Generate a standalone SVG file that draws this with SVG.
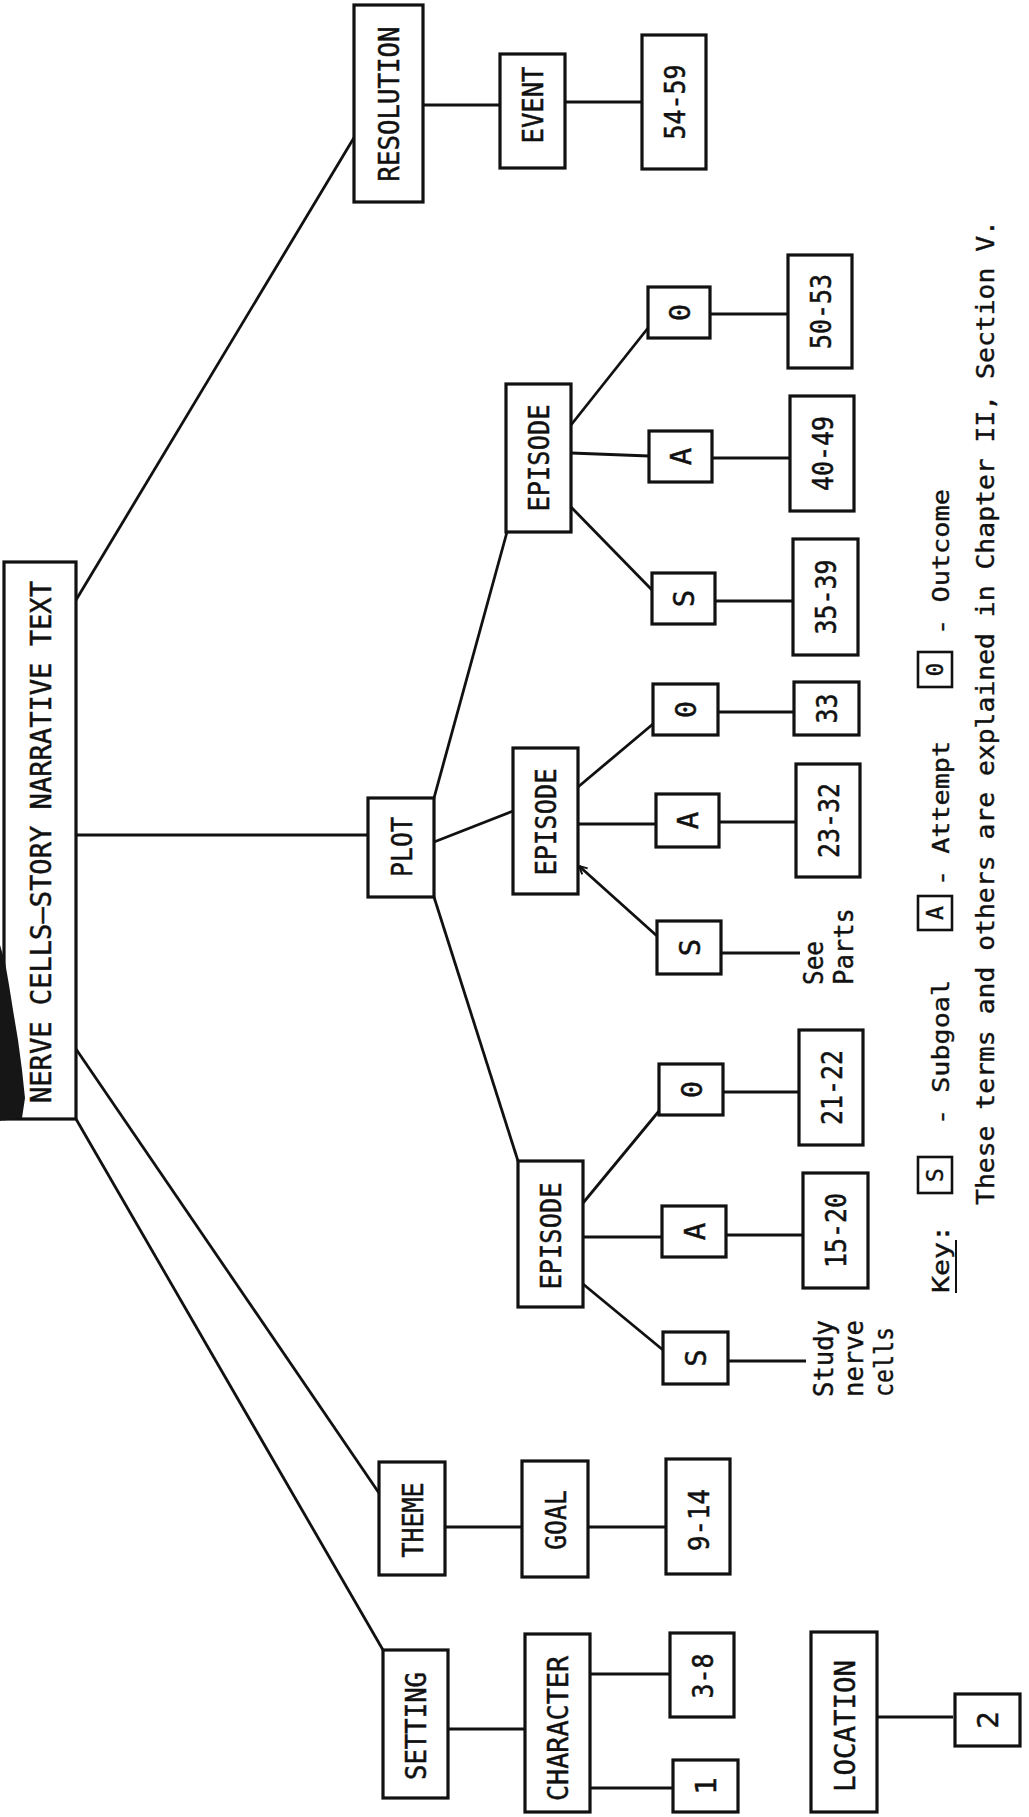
<svg xmlns="http://www.w3.org/2000/svg" width="1029" height="1817" viewBox="0 0 1029 1817">
<style>
.box{fill:#fff;stroke:#111;stroke-width:3.2}
.ln{stroke:#111;stroke-width:2.8;fill:none}
.lbl{font-family:"DejaVu Sans Mono","Liberation Mono",monospace;font-size:29px;fill:#111;stroke:#111;stroke-width:0.5;text-anchor:middle}
.sm{font-family:"DejaVu Sans Mono","Liberation Mono",monospace;font-size:27px;fill:#111;stroke:#111;stroke-width:0.4}
.key{font-family:"DejaVu Sans Mono","Liberation Mono",monospace;font-size:23px;fill:#111;stroke:#111;stroke-width:0.4}
.kbox{fill:#fff;stroke:#111;stroke-width:2.6}
</style>
<defs>
<marker id="arr" viewBox="0 0 10 10" refX="9" refY="5" markerWidth="10" markerHeight="10" markerUnits="userSpaceOnUse" orient="auto-start-reverse">
<path d="M1,1 L9,5 L1,9" fill="none" stroke="#111" stroke-width="2"/>
</marker>
</defs>
<rect width="1029" height="1817" fill="#fff"/>

<g id="connectors">
<line class="ln" x1="70" y1="610" x2="355" y2="136"/>
<line class="ln" x1="76" y1="835" x2="368" y2="835"/>
<line class="ln" x1="76" y1="1049" x2="379" y2="1493"/>
<line class="ln" x1="76" y1="1119" x2="383" y2="1650"/>
<line class="ln" x1="423" y1="105" x2="500" y2="105"/>
<line class="ln" x1="565" y1="102" x2="642" y2="102"/>
<line class="ln" x1="434" y1="798" x2="507" y2="532"/>
<line class="ln" x1="434" y1="842" x2="513" y2="811"/>
<line class="ln" x1="434" y1="897" x2="518" y2="1161"/>
<line class="ln" x1="571" y1="425" x2="648" y2="328"/>
<line class="ln" x1="571" y1="453" x2="649" y2="456"/>
<line class="ln" x1="571" y1="507" x2="652" y2="590"/>
<line class="ln" x1="710" y1="314" x2="788" y2="314"/>
<line class="ln" x1="712" y1="458" x2="790" y2="458"/>
<line class="ln" x1="715" y1="601" x2="793" y2="601"/>
<line class="ln" x1="578" y1="787" x2="653" y2="724"/>
<line class="ln" x1="578" y1="824" x2="656" y2="824"/>
<line class="ln" x1="579" y1="866" x2="657" y2="936" marker-start="url(#arr)"/>
<line class="ln" x1="718" y1="712" x2="794" y2="712"/>
<line class="ln" x1="719" y1="822" x2="796" y2="822"/>
<line class="ln" x1="721" y1="953" x2="800" y2="953"/>
<line class="ln" x1="583" y1="1203" x2="659" y2="1111"/>
<line class="ln" x1="583" y1="1237" x2="662" y2="1237"/>
<line class="ln" x1="583" y1="1284" x2="663" y2="1350"/>
<line class="ln" x1="723" y1="1092" x2="799" y2="1092"/>
<line class="ln" x1="726" y1="1235" x2="803" y2="1235"/>
<line class="ln" x1="728" y1="1361" x2="806" y2="1361"/>
<line class="ln" x1="445" y1="1527" x2="522" y2="1527"/>
<line class="ln" x1="588" y1="1527" x2="666" y2="1527"/>
<line class="ln" x1="448" y1="1729" x2="525" y2="1729"/>
<line class="ln" x1="590" y1="1674" x2="670" y2="1674"/>
<line class="ln" x1="590" y1="1788" x2="672" y2="1788"/>
<line class="ln" x1="876" y1="1717" x2="953" y2="1717"/>
</g>

<g id="root"><rect class="box" x="4" y="562" width="72" height="557"/><path d="M0,945 L5,962 L9,985 L13,1010 L18,1040 L22,1070 L25,1098 L22,1118 L0,1121 Z" fill="#161616"/><g transform="translate(40,842) rotate(-90)"><text class="lbl" y="10.6" textLength="522" lengthAdjust="spacingAndGlyphs">NERVE CELLS—STORY NARRATIVE TEXT</text></g></g>

<g id="resolution"><rect class="box" x="354" y="5" width="69" height="197"/><g transform="translate(388.5,104) rotate(-90)"><text class="lbl" y="10.6" textLength="155" lengthAdjust="spacingAndGlyphs">RESOLUTION</text></g></g>
<g id="event"><rect class="box" x="500" y="54" width="65" height="114"/><g transform="translate(532.5,105) rotate(-90)"><text class="lbl" y="10.6" textLength="77" lengthAdjust="spacingAndGlyphs">EVENT</text></g></g>
<g id="n54-59"><rect class="box" x="642" y="35" width="64" height="134"/><g transform="translate(674,102) rotate(-90)"><text class="lbl" y="10.6" textLength="75" lengthAdjust="spacingAndGlyphs">54-59</text></g></g>

<g id="plot"><rect class="box" x="368" y="798" width="66" height="99"/><g transform="translate(401,847) rotate(-90)"><text class="lbl" y="10.6" textLength="60" lengthAdjust="spacingAndGlyphs">PLOT</text></g></g>

<g id="episode3"><rect class="box" x="506" y="384" width="65" height="148"/><g transform="translate(538.5,458) rotate(-90)"><text class="lbl" y="10.6" textLength="107" lengthAdjust="spacingAndGlyphs">EPISODE</text></g></g>
<g id="o3"><rect class="box" x="648" y="287" width="62" height="51"/><g transform="translate(679,312.5) rotate(-90)"><text class="lbl" y="10.6">0</text></g></g>
<g id="a3"><rect class="box" x="649" y="431" width="63" height="51"/><g transform="translate(680.5,456.5) rotate(-90)"><text class="lbl" y="10.6">A</text></g></g>
<g id="s3"><rect class="box" x="652" y="573" width="63" height="51"/><g transform="translate(683.5,598.5) rotate(-90)"><text class="lbl" y="10.6">S</text></g></g>
<g id="n50-53"><rect class="box" x="788" y="255" width="64" height="113"/><g transform="translate(820,311.5) rotate(-90)"><text class="lbl" y="10.6" textLength="75" lengthAdjust="spacingAndGlyphs">50-53</text></g></g>
<g id="n40-49"><rect class="box" x="790" y="396" width="64" height="115"/><g transform="translate(822,453.5) rotate(-90)"><text class="lbl" y="10.6" textLength="75" lengthAdjust="spacingAndGlyphs">40-49</text></g></g>
<g id="n35-39"><rect class="box" x="793" y="539" width="65" height="116"/><g transform="translate(825.5,597) rotate(-90)"><text class="lbl" y="10.6" textLength="75" lengthAdjust="spacingAndGlyphs">35-39</text></g></g>

<g id="episode2"><rect class="box" x="513" y="748" width="65" height="146"/><g transform="translate(545.5,822) rotate(-90)"><text class="lbl" y="10.6" textLength="107" lengthAdjust="spacingAndGlyphs">EPISODE</text></g></g>
<g id="o2"><rect class="box" x="653" y="684" width="65" height="51"/><g transform="translate(685.5,709.5) rotate(-90)"><text class="lbl" y="10.6">0</text></g></g>
<g id="a2"><rect class="box" x="656" y="794" width="63" height="53"/><g transform="translate(687.5,820.5) rotate(-90)"><text class="lbl" y="10.6">A</text></g></g>
<g id="s2"><rect class="box" x="657" y="921" width="64" height="53"/><g transform="translate(689,947.5) rotate(-90)"><text class="lbl" y="10.6">S</text></g></g>
<g id="n33"><rect class="box" x="794" y="682" width="65" height="53"/><g transform="translate(826.5,708.5) rotate(-90)"><text class="lbl" y="10.6" textLength="30" lengthAdjust="spacingAndGlyphs">33</text></g></g>
<g id="n23-32"><rect class="box" x="796" y="764" width="64" height="113"/><g transform="translate(828,820.5) rotate(-90)"><text class="lbl" y="10.6" textLength="75" lengthAdjust="spacingAndGlyphs">23-32</text></g></g>
<g id="see-parts"><g transform="translate(823,985) rotate(-90)"><text class="sm" textLength="44" lengthAdjust="spacingAndGlyphs">See</text></g><g transform="translate(853,985) rotate(-90)"><text class="sm" textLength="77" lengthAdjust="spacingAndGlyphs">Parts</text></g></g>

<g id="episode1"><rect class="box" x="518" y="1161" width="65" height="146"/><g transform="translate(550.5,1236) rotate(-90)"><text class="lbl" y="10.6" textLength="107" lengthAdjust="spacingAndGlyphs">EPISODE</text></g></g>
<g id="o1"><rect class="box" x="659" y="1064" width="64" height="51"/><g transform="translate(691,1089.5) rotate(-90)"><text class="lbl" y="10.6">0</text></g></g>
<g id="a1"><rect class="box" x="662" y="1206" width="64" height="51"/><g transform="translate(694,1231.5) rotate(-90)"><text class="lbl" y="10.6">A</text></g></g>
<g id="s1"><rect class="box" x="663" y="1332" width="65" height="52"/><g transform="translate(695.5,1358) rotate(-90)"><text class="lbl" y="10.6">S</text></g></g>
<g id="n21-22"><rect class="box" x="799" y="1030" width="64" height="115"/><g transform="translate(831,1087.5) rotate(-90)"><text class="lbl" y="10.6" textLength="75" lengthAdjust="spacingAndGlyphs">21-22</text></g></g>
<g id="n15-20"><rect class="box" x="803" y="1173" width="65" height="115"/><g transform="translate(835.5,1230.5) rotate(-90)"><text class="lbl" y="10.6" textLength="75" lengthAdjust="spacingAndGlyphs">15-20</text></g></g>
<g id="study"><g transform="translate(833,1397) rotate(-90)"><text class="sm" textLength="77" lengthAdjust="spacingAndGlyphs">Study</text></g><g transform="translate(863,1397) rotate(-90)"><text class="sm" textLength="77" lengthAdjust="spacingAndGlyphs">nerve</text></g><g transform="translate(893,1397) rotate(-90)"><text class="sm" textLength="70" lengthAdjust="spacingAndGlyphs">cells</text></g></g>

<g id="theme"><rect class="box" x="379" y="1462" width="66" height="113"/><g transform="translate(412,1520) rotate(-90)"><text class="lbl" y="10.6" textLength="75" lengthAdjust="spacingAndGlyphs">THEME</text></g></g>
<g id="goal"><rect class="box" x="522" y="1461" width="66" height="116"/><g transform="translate(555,1520) rotate(-90)"><text class="lbl" y="10.6" textLength="60" lengthAdjust="spacingAndGlyphs">GOAL</text></g></g>
<g id="n9-14"><rect class="box" x="666" y="1459" width="64" height="115"/><g transform="translate(698,1520) rotate(-90)"><text class="lbl" y="10.6" textLength="62" lengthAdjust="spacingAndGlyphs">9-14</text></g></g>

<g id="setting"><rect class="box" x="383" y="1650" width="65" height="148"/><g transform="translate(415.5,1726) rotate(-90)"><text class="lbl" y="10.6" textLength="108" lengthAdjust="spacingAndGlyphs">SETTING</text></g></g>
<g id="character"><rect class="box" x="525" y="1634" width="65" height="178"/><g transform="translate(557.5,1728.5) rotate(-90)"><text class="lbl" y="10.6" textLength="145" lengthAdjust="spacingAndGlyphs">CHARACTER</text></g></g>
<g id="n3-8"><rect class="box" x="670" y="1633" width="64" height="84"/><g transform="translate(702,1676) rotate(-90)"><text class="lbl" y="10.6" textLength="45" lengthAdjust="spacingAndGlyphs">3-8</text></g></g>
<g id="n1"><rect class="box" x="673" y="1760" width="65" height="52"/><g transform="translate(705.5,1786) rotate(-90)"><text class="lbl" y="10.6">1</text></g></g>
<g id="location"><rect class="box" x="811" y="1632" width="66" height="180"/><g transform="translate(844,1726) rotate(-90)"><text class="lbl" y="10.6" textLength="132" lengthAdjust="spacingAndGlyphs">LOCATION</text></g></g>
<g id="n2"><rect class="box" x="955" y="1694" width="65" height="52"/><g transform="translate(987.5,1720) rotate(-90)"><text class="lbl" y="10.6">2</text></g></g>

<g id="key">
<g transform="translate(949,1293) rotate(-90)"><text class="key" textLength="68" lengthAdjust="spacingAndGlyphs">Key:</text></g>
<line x1="956" y1="1293" x2="956" y2="1240" stroke="#111" stroke-width="2"/>
<rect class="kbox" x="918" y="1157" width="34" height="36"/>
<g transform="translate(935,1175) rotate(-90)"><text class="key" y="8.4" text-anchor="middle">S</text></g>
<g transform="translate(949,1125) rotate(-90)"><text class="key" textLength="145" lengthAdjust="spacingAndGlyphs">- Subgoal</text></g>
<rect class="kbox" x="918" y="896" width="34" height="34"/>
<g transform="translate(935,913) rotate(-90)"><text class="key" y="8.4" text-anchor="middle">A</text></g>
<g transform="translate(949,886) rotate(-90)"><text class="key" textLength="145" lengthAdjust="spacingAndGlyphs">- Attempt</text></g>
<rect class="kbox" x="918" y="652" width="34" height="35"/>
<g transform="translate(935,669.5) rotate(-90)"><text class="key" y="8.4" text-anchor="middle">0</text></g>
<g transform="translate(949,635) rotate(-90)"><text class="key" textLength="146" lengthAdjust="spacingAndGlyphs">- Outcome</text></g>
<g transform="translate(994,1205) rotate(-90)"><text class="key" style="font-size:24px" textLength="985" lengthAdjust="spacingAndGlyphs">These terms and others are explained in Chapter II, Section V.</text></g>
</g>
</svg>
